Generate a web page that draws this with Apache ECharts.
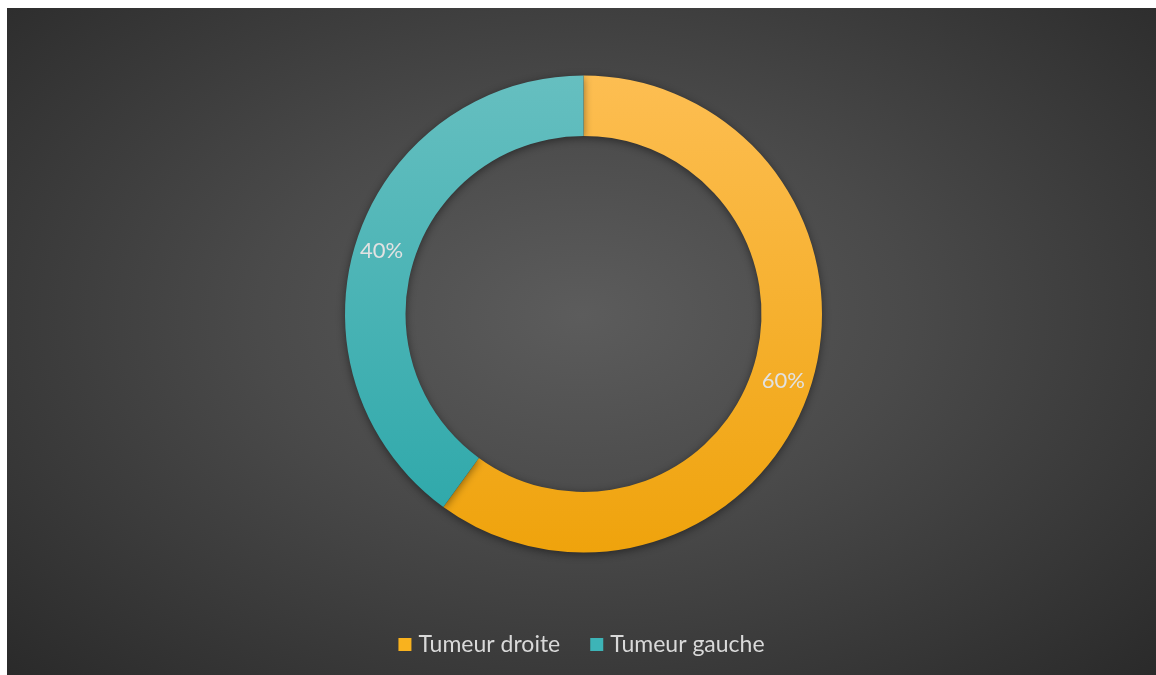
<!DOCTYPE html>
<html>
<head>
<meta charset="utf-8">
<script src="https://cdn.jsdelivr.net/npm/echarts@6/dist/echarts.min.js"></script>
<style>
  html, body { margin: 0; padding: 0; background: #ffffff; }
  #chart {
    position: absolute;
    left: 7px; top: 8px;
    width: 1149px; height: 667px;
    background: radial-gradient(ellipse farthest-corner at 50% 46%, #5c5c5c 0%, #4a4a4a 40%, #2a2a2a 100%);
  }
</style>
</head>
<body>
<div id="chart"></div>
<script>
// Share of tumours by side
const categories = ['Tumeur droite', 'Tumeur gauche'];
const shares = [60, 40];

const fills = [
  { top: '#fdbe52', bottom: '#efa30c', flat: '#f9b21e' },
  { top: '#66bfc0', bottom: '#30a9ab', flat: '#3db4b7' }
];

const chart = echarts.init(document.getElementById('chart'));
chart.setOption({
  backgroundColor: 'transparent',
  legend: {
    bottom: 14,
    left: 'center',
    padding: [5, 1, 5, 9],
    icon: 'rect',
    itemWidth: 13,
    itemHeight: 13,
    itemGap: 30,
    textStyle: { color: '#d9d9d9', fontFamily: 'Lato', fontSize: 23, padding: [0, 0, 0, 2] },
    data: categories.map((name, i) => ({ name, itemStyle: { color: fills[i].flat } }))
  },
  series: [{
    type: 'pie',
    center: [576.5, 306],
    radius: [178, 238.5],
    startAngle: 90,
    clockwise: true,
    avoidLabelOverlap: false,
    label: {
      show: true,
      position: 'inside',
      formatter: '{c}%',
      color: '#e2e2e2',
      fontFamily: 'Lato',
      fontSize: 22,
      offset: [-1, 2]
    },
    labelLine: { show: false },
    emphasis: { disabled: true },
    itemStyle: {
      borderWidth: 0,
      shadowBlur: 8,
      shadowColor: 'rgba(0,0,0,0.45)',
      shadowOffsetY: 2
    },
    data: categories.map((name, i) => ({
      name,
      value: shares[i],
      itemStyle: {
        color: new echarts.graphic.LinearGradient(0, 0, 0, 1, [
          { offset: 0, color: fills[i].top },
          { offset: 1, color: fills[i].bottom }
        ])
      }
    }))
  }]
});
</script>
</body>
</html>
